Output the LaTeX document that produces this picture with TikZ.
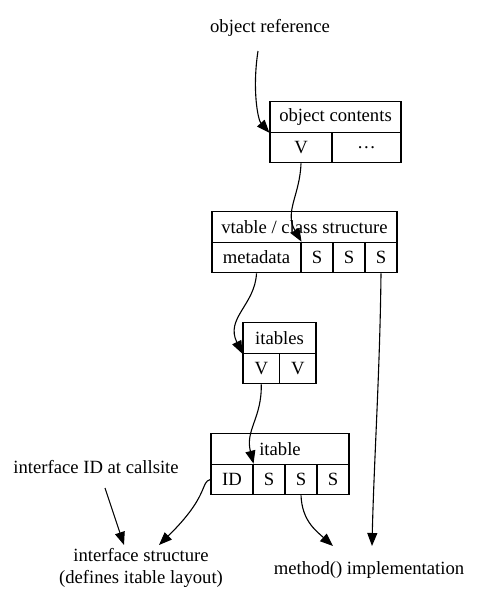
\documentclass[tikz,border=0pt]{standalone}
\usepackage{fontspec}
\setmainfont{Liberation Serif}
\usetikzlibrary{arrows.meta}
\begin{document}
\begin{tikzpicture}[x=1pt,y=-1pt,
  every node/.style={font=\fontsize{18.67}{22}\selectfont, inner sep=0pt},
  cell/.style={draw, line width=1.1pt, minimum height=30.5pt},
  lbl/.style={align=center},
  arr/.style={line width=1.1pt, -{Triangle[length=13pt,width=10pt]}}]
\useasboundingbox (0,0) rectangle (479,600);
% object contents
\node[cell, minimum width=131pt] (oc) at (335.5,117) {object contents};
\node[cell, minimum width=62pt] (ocV) at (301,147.5) {V};
\node[cell, minimum width=69pt] (ocD) at (366.5,147.5) {\dots};
% vtable
\node[cell, minimum width=185pt] (vt) at (304.5,227) {vtable / class structure};
\node[cell, minimum width=89pt] (vtM) at (256.5,257.5) {metadata};
\node[cell, minimum width=32pt] (vtS1) at (317,257.5) {S};
\node[cell, minimum width=32pt] (vtS2) at (349,257.5) {S};
\node[cell, minimum width=32pt] (vtS3) at (381,257.5) {S};
% itables
\node[cell, minimum width=73pt] (its) at (279.5,338) {itables};
\node[cell, minimum width=36.5pt] (itsV1) at (261.25,368.5) {V};
\node[cell, minimum width=36.5pt] (itsV2) at (297.75,368.5) {V};
% itable
\node[cell, minimum width=138pt] (it) at (280,449) {itable};
\node[cell, minimum width=42pt] (itID) at (232,479.5) {ID};
\node[cell, minimum width=32pt] (itS1) at (269,479.5) {S};
\node[cell, minimum width=32pt] (itS2) at (301,479.5) {S};
\node[cell, minimum width=32pt] (itS3) at (333,479.5) {S};
% labels
\node[lbl] (orf) at (270,28) {object reference};
\node[lbl] (cs) at (96,467) {interface ID at callsite};
\node[lbl] (is) at (141,568) {interface structure\\(defines itable layout)};
\node[lbl] (mi) at (369,570) {method() implementation};
\coordinate (orfB) at (258,51);
\coordinate (csB) at (105,488);
\coordinate (isT1) at (124,545);
\coordinate (isT2) at (159,545);
\coordinate (miT1) at (333,546);
\coordinate (miT2) at (372,546);
% edges
\draw[arr] (orfB) .. controls (252,90) and (258,120) .. (oc.south west);
\draw[arr] (ocV.south) .. controls (300,195) and (284,212) .. (vtM.north east);
\draw[arr] (vtM.south) .. controls (255,305) and (225,318) .. (its.south west);
\draw[arr] (itsV1.south) .. controls (262,418) and (245,430) .. (itID.north east);
\draw[arr] (itID.west) .. controls (200,482) and (210,495) .. (isT2);
\draw[arr] (csB) -- (isT1);
\draw[arr] (itS2.south) .. controls (302,520) and (315,530) .. (miT1);
\draw[arr] (vtS3.south) .. controls (380,370) and (374,460) .. (miT2);
\end{tikzpicture}
\end{document}
